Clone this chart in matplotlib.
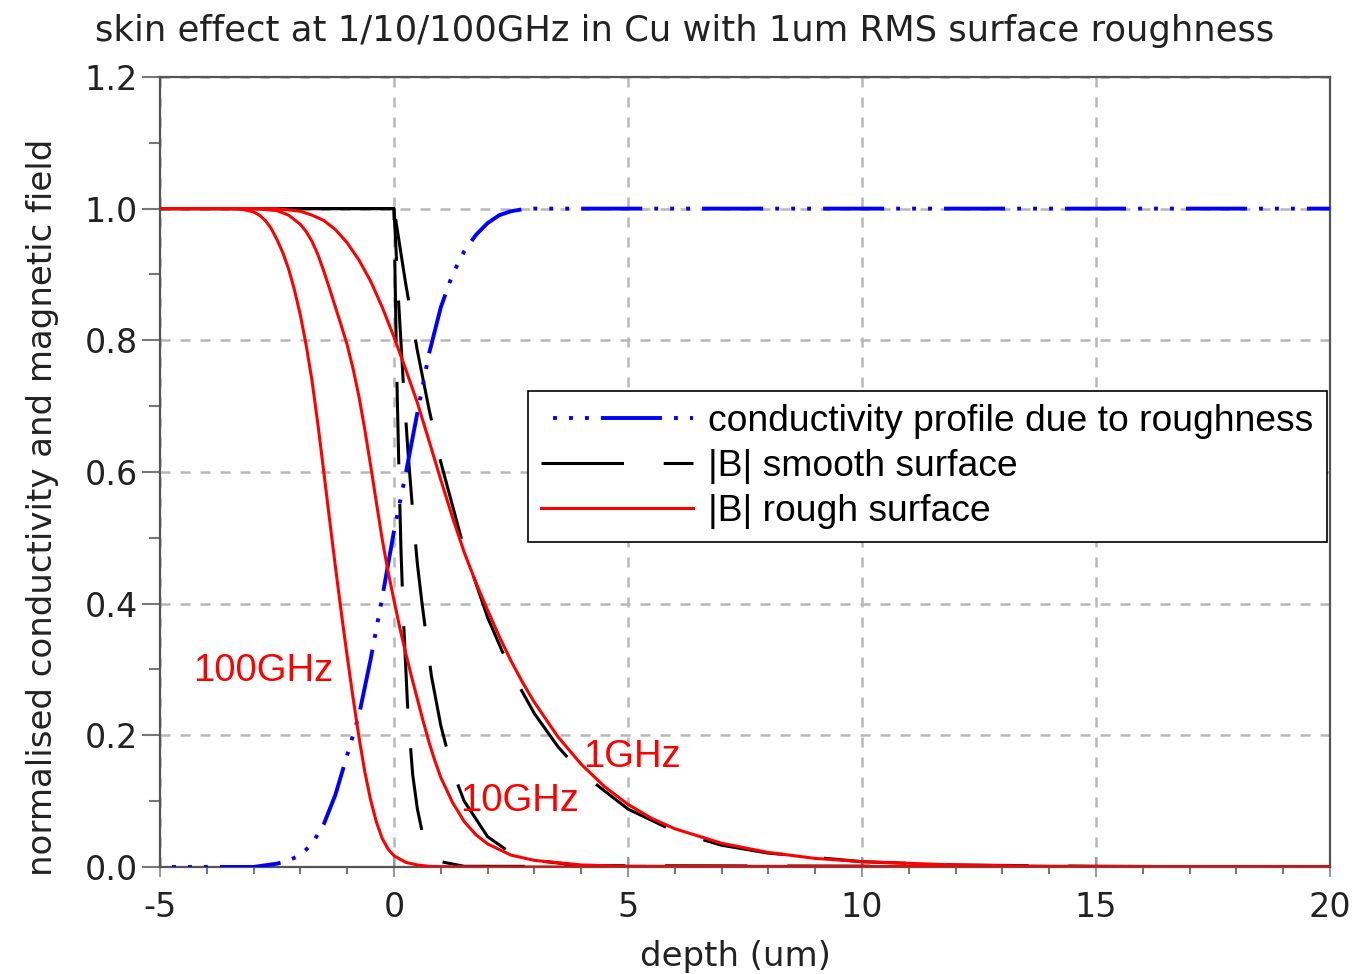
import numpy as np
import matplotlib
matplotlib.use('Agg')
import matplotlib.pyplot as plt

plt.rcParams['axes.unicode_minus'] = False

# depth (um) and normalised conductivity profile due to roughness
sigma_x = [-5, -3.0, -2.5, -2.25, -2.0, -1.75, -1.5, -1.25, -1.0, -0.75, -0.5, -0.25, 0.0,
           0.25, 0.5, 0.75, 1.0, 1.25, 1.5, 1.75, 2.0, 2.25, 2.5, 2.75, 3.0, 20]
sigma_y = [0, 0, 0.005, 0.01, 0.018, 0.035, 0.065, 0.11, 0.17, 0.23, 0.315, 0.41, 0.51,
           0.597, 0.69, 0.78, 0.85, 0.9, 0.935, 0.96, 0.978, 0.99, 0.996, 0.999, 1.0, 1.0]

# |B| smooth surface (1, 10, 100 GHz)
smooth_1_x = [-5, 0, 0.25, 0.5, 0.75, 1, 1.5, 2, 2.5, 3, 3.5, 4, 5, 6, 7, 8, 10, 12, 15, 20]
smooth_1_y = [1, 1, 0.886, 0.784, 0.695, 0.615, 0.483, 0.379, 0.297, 0.233, 0.183,
              0.143, 0.088, 0.054, 0.033, 0.021, 0.008, 0.003, 0.001, 0.0]
smooth_10_x = [-5, 0, 0.1, 0.2, 0.3, 0.4, 0.5, 0.6, 0.8, 1.0, 1.25, 1.5, 2, 2.5, 3, 4, 20]
smooth_10_y = [1, 1, 0.857, 0.735, 0.63, 0.54, 0.46, 0.40, 0.29, 0.215, 0.146, 0.10,
               0.046, 0.021, 0.01, 0.002, 0.0]
smooth_100_x = [-5, 0, 0.05, 0.1, 0.15, 0.2, 0.3, 0.4, 0.5, 0.6, 0.8, 1.0, 1.5, 20]
smooth_100_y = [1, 1, 0.78, 0.62, 0.48, 0.38, 0.23, 0.14, 0.088, 0.054, 0.021, 0.008,
                0.001, 0.0]

# |B| rough surface (1, 10, 100 GHz)
rough_1_x = [-5, -2.5, -2.0, -1.75, -1.5, -1.25, -1.0, -0.75, -0.5, -0.25, 0, 0.25, 0.5,
             0.75, 1.0, 1.25, 1.5, 1.75, 2.0, 2.25, 2.5, 2.75, 3.0, 3.5, 4.0, 4.5, 5.0,
             5.5, 6.0, 7.0, 8.0, 9.0, 10.0, 12.0, 14.0, 20]
rough_1_y = [1, 1.0, 0.996, 0.99, 0.982, 0.968, 0.948, 0.922, 0.89, 0.85, 0.805, 0.756,
             0.705, 0.647, 0.588, 0.531, 0.478, 0.432, 0.39, 0.35, 0.313, 0.28, 0.25,
             0.198, 0.156, 0.122, 0.095, 0.074, 0.058, 0.036, 0.022, 0.013, 0.008,
             0.003, 0.001, 0.0]
rough_10_x = [-5, -3, -2.5, -2.25, -2.0, -1.875, -1.75, -1.625, -1.5, -1.375, -1.25,
              -1.125, -1.0, -0.875, -0.75, -0.625, -0.5, -0.375, -0.25, -0.125, 0,
              0.125, 0.25, 0.375, 0.5, 0.625, 0.75, 0.875, 1.0, 1.25, 1.5, 1.75, 2.0,
              2.5, 3.0, 4.0, 5.0, 20]
rough_10_y = [1, 1, 0.997, 0.99, 0.976, 0.965, 0.95, 0.93, 0.905, 0.878, 0.85, 0.822,
              0.793, 0.757, 0.715, 0.665, 0.61, 0.553, 0.497, 0.448, 0.405, 0.363,
              0.325, 0.289, 0.255, 0.221, 0.189, 0.161, 0.136, 0.098, 0.069, 0.049,
              0.035, 0.018, 0.010, 0.003, 0.001, 0.0]
rough_100_x = [-5, -3.5, -3.25, -3.0, -2.875, -2.75, -2.625, -2.5, -2.375, -2.25, -2.125,
               -2.0, -1.875, -1.75, -1.625, -1.5, -1.375, -1.25, -1.125, -1.0, -0.875,
               -0.75, -0.625, -0.5, -0.375, -0.25, -0.125, 0.0, 0.25, 0.5, 0.75, 1.0,
               2.0, 20]
rough_100_y = [1, 1.0, 0.999, 0.995, 0.99, 0.982, 0.97, 0.953, 0.933, 0.908, 0.876,
               0.838, 0.792, 0.738, 0.672, 0.600, 0.527, 0.455, 0.386, 0.32, 0.257,
               0.198, 0.145, 0.102, 0.068, 0.043, 0.027, 0.017, 0.007, 0.003, 0.001,
               0.0005, 0.0, 0.0]

freq_labels = ['100GHz', '10GHz', '1GHz']

fig = plt.figure(figsize=(13.58, 9.74), dpi=100)
ax = fig.add_axes([0.1178, 0.1099, 0.8616, 0.8111])

sans = 'DejaVu Sans'
arial = 'Liberation Sans'
txt = '#222222'

# conductivity (blue dash + dots), offset so the legend sample starts with dots
ax.plot(sigma_x, sigma_y, color='#0000ff', lw=2.8, zorder=3,
        linestyle=(15.7, (15.7, 3.1, 1, 3.1, 1, 3.1, 1, 3.1)),
        label='conductivity profile due to roughness')

# smooth surface, black dashed; offsets so the flat parts overlap into a solid line
ax.plot(smooth_1_x, smooth_1_y, color='black', lw=2.2, zorder=2,
        linestyle=(0, (27, 13)), label='|B| smooth surface')
ax.plot(smooth_10_x, smooth_10_y, color='black', lw=2.2, zorder=2,
        linestyle=(13.3, (27, 13)))
ax.plot(smooth_100_x, smooth_100_y, color='black', lw=2.2, zorder=2,
        linestyle=(26.7, (27, 13)))

# rough surface, red solid
ax.plot(rough_1_x, rough_1_y, color='#ff0000', lw=2.2, zorder=4, label='|B| rough surface')
ax.plot(rough_10_x, rough_10_y, color='#ff0000', lw=2.2, zorder=4)
ax.plot(rough_100_x, rough_100_y, color='#ff0000', lw=2.2, zorder=4)

# frequency labels
ax.text(-4.29, 0.298, freq_labels[0], color='#ff0000', fontsize=27.5, family=arial,
        ha='left', va='center', zorder=5)
ax.text(1.41, 0.100, freq_labels[1], color='#ff0000', fontsize=27.5, family=arial,
        ha='left', va='center', zorder=5)
ax.text(4.04, 0.167, freq_labels[2], color='#ff0000', fontsize=27.5, family=arial,
        ha='left', va='center', zorder=5)

ax.set_xlim(-5, 20)
ax.set_ylim(0, 1.2)
ax.set_xticks(np.arange(-5, 21, 5))
ax.set_yticks(np.arange(0, 1.21, 0.2))
ax.set_yticklabels([f'{v:.1f}' for v in np.arange(0, 1.21, 0.2)])
ax.set_xticks(np.arange(-5, 21, 1), minor=True)
ax.set_yticks(np.arange(0, 1.21, 0.1), minor=True)

for lab in ax.get_xticklabels() + ax.get_yticklabels():
    lab.set_family(sans)

ax.tick_params(axis='y', which='major', direction='out', length=13, width=1.5,
               color='#777777', labelsize=24, labelcolor=txt, pad=3)
ax.tick_params(axis='y', which='minor', direction='out', length=8, width=1.5,
               color='#777777')
ax.tick_params(axis='x', which='major', direction='inout', length=14, width=1.5,
               color='#999999', labelsize=24, labelcolor=txt, pad=10)
ax.tick_params(axis='x', which='minor', direction='out', length=5, width=1.5,
               color='#777777')

for s in ax.spines.values():
    s.set_color('#555555')
    s.set_linewidth(1.6)

ax.set_axisbelow(True)
ax.grid(True, which='major', color='#b8b8b8', linestyle=(0, (4, 4)), linewidth=1.8)

leg = ax.legend(loc='upper right', bbox_to_anchor=(0.997, 0.603), borderaxespad=0,
                prop={'family': arial, 'size': 26.8}, frameon=True, fancybox=False,
                edgecolor='black', framealpha=1, borderpad=0.35, labelspacing=0.28,
                handlelength=4.1, handletextpad=0.4)
leg.get_frame().set_linewidth(1.2)

fig.text(685 / 1358, 0.968, 'skin effect at 1/10/100GHz in Cu with 1um RMS surface roughness',
         ha='center', va='center', fontsize=25.5, family=sans, color=txt)
fig.text(735 / 1358, 0.0175, 'depth (um)', ha='center', va='center',
         fontsize=24.5, family=sans, color=txt)
fig.text(0.031, 0.4795, 'normalised conductivity and magnetic field', rotation=90,
         ha='center', va='center', fontsize=24.5, family=sans, color=txt)

fig.savefig('out.png', dpi=100)
